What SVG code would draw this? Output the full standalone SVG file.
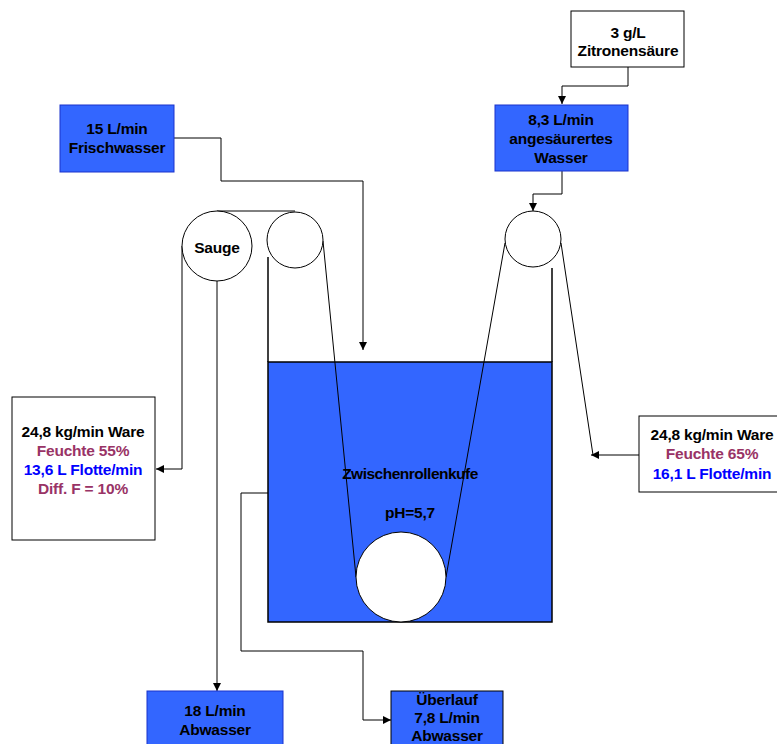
<svg xmlns="http://www.w3.org/2000/svg" width="777" height="744" viewBox="0 0 777 744">
<style>
.box{fill:#fff;stroke:#000;stroke-width:1}
.bbox{fill:#3366FF;stroke:#1a33cc;stroke-width:1}
.t{font-family:"Liberation Sans",Arial,sans-serif;font-size:15.5px;font-weight:bold;letter-spacing:-0.2px;text-anchor:middle;fill:#000}
.m{fill:#993366}
.b{fill:#0000FF}
.ln{fill:none;stroke:#000;stroke-width:1}
.roll{fill:#fff;stroke:#000;stroke-width:1}
</style>
<defs>
<marker id="ah" viewBox="0 0 10 10" refX="10" refY="5" markerWidth="8" markerHeight="8" orient="auto" markerUnits="userSpaceOnUse">
<path d="M0,0 L10,5 L0,10 z" fill="#000"/>
</marker>
</defs>

<g id="vessel">
<rect x="268" y="362" width="284" height="260" fill="#3366FF" stroke="#000" stroke-width="1.5"/>
<line x1="268" y1="257" x2="268" y2="362" stroke="#000" stroke-width="1.5"/>
<line x1="552" y1="268" x2="552" y2="362" stroke="#000" stroke-width="1.5"/>
<text class="t" x="410" y="479" style="letter-spacing:-0.5px">Zwischenrollenkufe</text>
<text class="t" x="410" y="518">pH=5,7</text>
</g>

<g id="connectors">
<path class="ln" d="M628,67 V86 H562 V104" marker-end="url(#ah)"/>
<path class="ln" d="M562,171 V194 H533 V211" marker-end="url(#ah)"/>
<path class="ln" d="M174,138 H221 V181 H363 V350" marker-end="url(#ah)"/>
<path class="ln" d="M182,246 V469 H156" marker-end="url(#ah)"/>
<path class="ln" d="M217,281 V691" marker-end="url(#ah)"/>
<path class="ln" d="M268,493 H241 V651 H363 V720 H391" marker-end="url(#ah)"/>
<path class="ln" d="M639,455 H591" marker-end="url(#ah)"/>
<path class="ln" d="M561,243 L593,455"/>
<path class="ln" d="M217,211 H295"/>
<path class="ln" d="M323,241 L356,577"/>
<path class="ln" d="M505,243 L446,577"/>
</g>

<g id="sauge">
<circle class="roll" cx="217" cy="246" r="35"/>
<text class="t" x="217" y="253">Sauge</text>
</g>
<g id="roll2"><circle class="roll" cx="295" cy="240" r="28"/></g>
<g id="roll3"><circle class="roll" cx="533" cy="239" r="28"/></g>
<g id="roll4"><circle class="roll" cx="401" cy="577" r="45"/></g>

<g id="zitrone">
<rect class="box" x="571" y="11" width="113" height="56"/>
<text class="t" x="628" y="38">3 g/L</text>
<text class="t" x="628" y="56">Zitronensäure</text>
</g>

<g id="angesaeuert">
<rect class="bbox" x="495" y="105" width="133" height="66"/>
<text class="t" x="561" y="125">8,3 L/min</text>
<text class="t" x="561" y="144">angesäurertes</text>
<text class="t" x="561" y="163">Wasser</text>
</g>

<g id="frisch">
<rect class="bbox" x="60" y="105" width="114" height="67"/>
<text class="t" x="117" y="134">15 L/min</text>
<text class="t" x="117" y="153">Frischwasser</text>
</g>

<g id="ware_links">
<rect class="box" x="12" y="397" width="143" height="143"/>
<text class="t" x="83" y="437">24,8 kg/min Ware</text>
<text class="t m" x="83" y="456">Feuchte 55%</text>
<text class="t b" x="83" y="475">13,6 L Flotte/min</text>
<text class="t m" x="83" y="494">Diff. F = 10%</text>
</g>

<g id="ware_rechts">
<rect class="box" x="639" y="416" width="145" height="76"/>
<text class="t" x="712" y="440">24,8 kg/min Ware</text>
<text class="t m" x="712" y="459">Feuchte 65%</text>
<text class="t b" x="712" y="479">16,1 L Flotte/min</text>
</g>

<g id="abwasser">
<rect class="bbox" x="147" y="691" width="136" height="60"/>
<text class="t" x="215" y="716">18 L/min</text>
<text class="t" x="215" y="735">Abwasser</text>
</g>

<g id="ueberlauf">
<rect class="box" x="391" y="691" width="112" height="60" style="fill:#3366FF"/>
<text class="t" x="447" y="705">Überlauf</text>
<text class="t" x="447" y="723">7,8 L/min</text>
<text class="t" x="447" y="741">Abwasser</text>
</g>
</svg>
